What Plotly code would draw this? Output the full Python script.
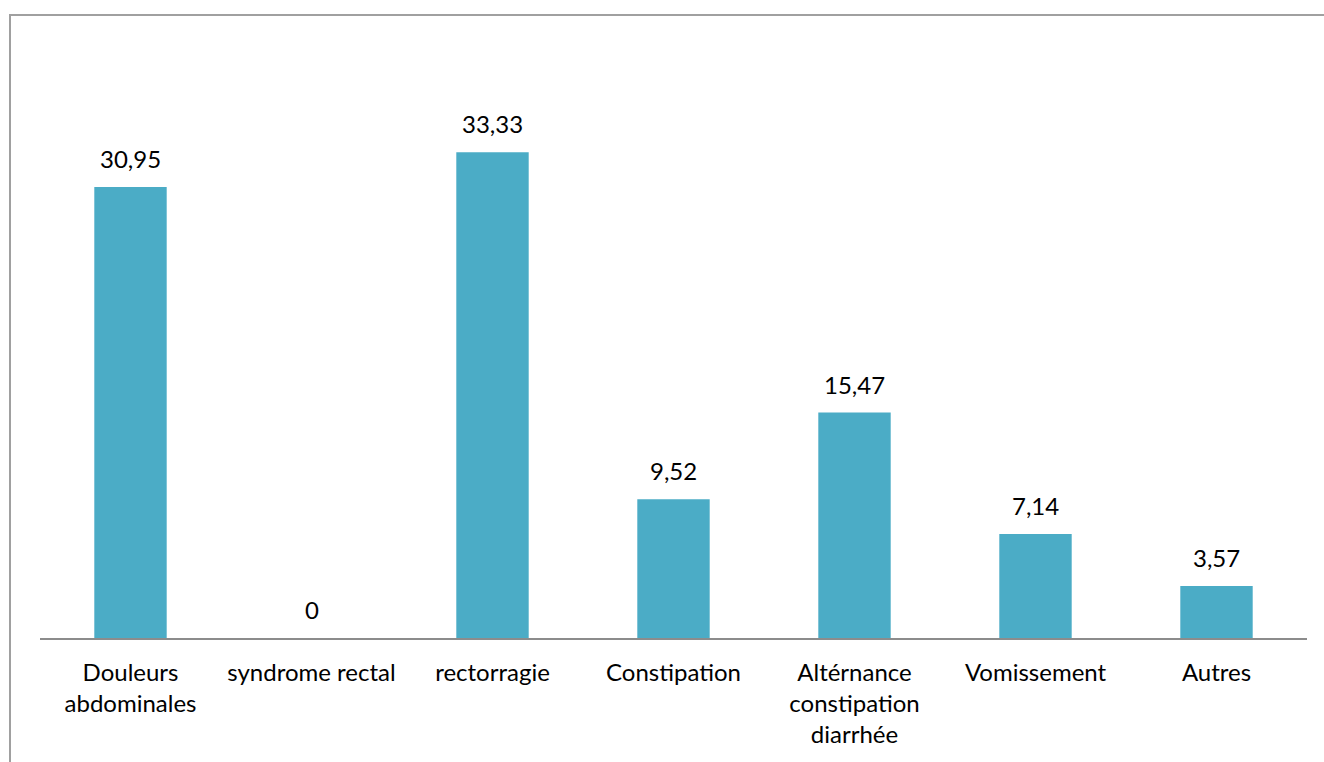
import plotly.graph_objects as go

categories = ["Douleurs<br>abdominales", "syndrome rectal", "rectorragie", "Constipation",
              "Altérnance<br>constipation<br>diarrhée", "Vomissement", "Autres"]
values = [30.95, 0, 33.33, 9.52, 15.47, 7.14, 3.57]
labels = [f"{v:g}".replace(".", ",") for v in values]

FONT = "Lato, Carlito, 'Open Sans', sans-serif"
FS = 24

fig = go.Figure(go.Bar(
    x=categories, y=values,
    marker=dict(color="#4BACC6", line=dict(width=0)),
    cliponaxis=False, hoverinfo="x+y",
))

for c, v, t in zip(categories, values, labels):
    fig.add_annotation(x=c, y=v, text=t, showarrow=False, yanchor="bottom",
                       yshift=12, font=dict(family=FONT, size=FS, color="#000000"))

fig.update_layout(
    width=1324, height=762,
    margin=dict(l=40, r=17, t=55, b=124),
    paper_bgcolor="white", plot_bgcolor="white",
    bargap=0.6, showlegend=False,
    font=dict(family=FONT, size=FS, color="#000000"),
    xaxis=dict(showline=True, linecolor="#8C8C8C", linewidth=2, ticks="",
               tickfont=dict(family=FONT, size=FS, color="#000000"),
               ticklabelstandoff=12, showgrid=False, zeroline=False),
    yaxis=dict(visible=False, range=[0, 40], showgrid=False, zeroline=False),
)

fig.add_shape(type="rect", xref="paper", yref="paper",
              x0=(10 - 40) / 1267, x1=1.05, y0=-0.5, y1=(638 - 15) / 583,
              line=dict(color="#A0A0A0", width=2), fillcolor="rgba(0,0,0,0)", layer="below")

fig.write_html("out.html")
